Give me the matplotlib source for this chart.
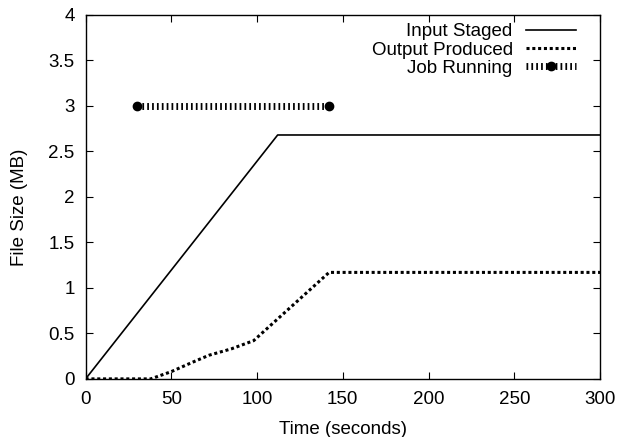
import matplotlib.pyplot as plt

plt.rcParams['font.family'] = ['Liberation Sans', 'DejaVu Sans']

# values
input_t = [0, 112, 300]
input_mb = [0, 2.68, 2.68]

output_t = [0, 38, 50, 62, 72, 85, 98, 142, 300]
output_mb = [0, 0, 0.08, 0.18, 0.26, 0.33, 0.42, 1.17, 1.17]

job_t = [30, 142]
job_y = [3, 3]

x_ticks = [0, 50, 100, 150, 200, 250, 300]
y_ticks = [0, 0.5, 1, 1.5, 2, 2.5, 3, 3.5, 4]
y_tick_labels = ['0', '0.5', '1', '1.5', '2', '2.5', '3', '3.5', '4']

fig = plt.figure(figsize=(6.25, 4.37), dpi=100)
ax = fig.add_axes([0.137, 0.133, 0.823, 0.833])

ax.plot(input_t, input_mb, color='black', lw=1.2, label='Input Staged')
ax.plot(output_t, output_mb, color='black', lw=2.2, linestyle=(0, (1.0, 0.9)),
        label='Output Produced')
ax.plot(job_t, job_y, color='black', lw=5, linestyle=(0, (0.25, 0.45)),
        dash_capstyle='butt', marker='o', markersize=6, label='Job Running')

ax.set_xlim(0, 300)
ax.set_ylim(0, 4)
ax.set_xticks(x_ticks)
ax.set_yticks(y_ticks)
ax.set_yticklabels(y_tick_labels)
ax.tick_params(direction='in', top=True, right=True, length=5, labelsize=13.5)
ax.tick_params(axis='x', pad=9)
ax.tick_params(axis='y', pad=8)
for s in ax.spines.values():
    s.set_linewidth(1)

ax.set_xlabel('Time (seconds)', fontsize=13.5, labelpad=9)
ax.set_ylabel('File Size (MB)', fontsize=13.5)
ax.yaxis.set_label_coords(-0.113, 0.47)

# gnuplot-style key: text right-aligned, sample on the right
ax.legend(loc='upper right', bbox_to_anchor=(0.953, 0.977), frameon=False,
          markerfirst=False, fontsize=13.5, handlelength=2.67, handletextpad=0.7,
          labelspacing=0.06, borderaxespad=0, borderpad=0, numpoints=1)

fig.savefig('out.png', dpi=100)
